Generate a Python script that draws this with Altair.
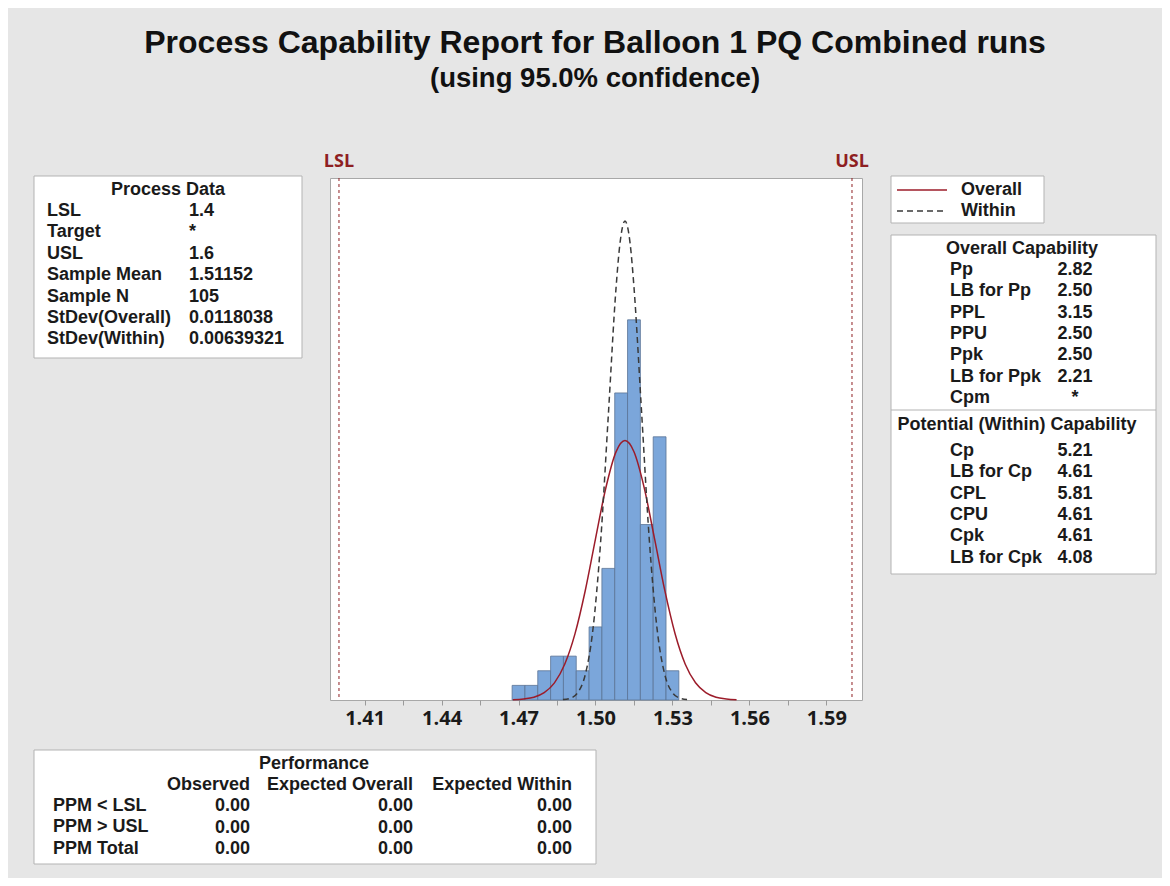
import altair as alt
import pandas as pd

FONT = "Open Sans"
BOXFONT = "Liberation Sans"

# ---------------- data ----------------
title_text = "Process Capability Report for Balloon 1 PQ Combined runs"
subtitle_text = "(using 95.0% confidence)"

bin_lo = [1.4675, 1.4725, 1.4775, 1.4825, 1.4875, 1.4925, 1.4975, 1.5025, 1.5075, 1.5125, 1.5175, 1.5225, 1.5275]
bin_hi = [1.4725, 1.4775, 1.4825, 1.4875, 1.4925, 1.4975, 1.5025, 1.5075, 1.5125, 1.5175, 1.5225, 1.5275, 1.5325]
counts = [1, 1, 2, 3, 3, 2, 5, 9, 21, 26, 12, 18, 2]

overall_x = [1.4678, 1.472, 1.476, 1.480, 1.484, 1.488, 1.492, 1.496, 1.500, 1.504, 1.508, 1.5115,
             1.515, 1.519, 1.523, 1.527, 1.531, 1.535, 1.539, 1.543, 1.547, 1.551, 1.555]
overall_y = [0.02, 0.07, 0.19, 0.50, 1.17, 2.44, 4.52, 7.47, 11.02, 14.48, 16.97, 17.74,
             16.98, 14.51, 11.05, 7.51, 4.55, 2.45, 1.18, 0.51, 0.19, 0.07, 0.02]

within_x = [1.4873, 1.490, 1.493, 1.496, 1.499, 1.502, 1.505, 1.508, 1.5095, 1.5115, 1.5135,
            1.515, 1.518, 1.521, 1.524, 1.527, 1.530, 1.533, 1.5357]
within_y = [0.03, 0.11, 0.49, 1.72, 4.82, 10.81, 19.47, 28.15, 31.16, 32.76, 31.23,
            28.25, 19.60, 10.91, 4.88, 1.75, 0.50, 0.12, 0.03]

spec_names = ["LSL", "USL"]
spec_values = [1.4, 1.6]

tick_values = [1.41, 1.425, 1.44, 1.455, 1.47, 1.485, 1.50, 1.515, 1.53, 1.545, 1.56, 1.575, 1.59]
tick_labels = ["1.41", "1.44", "1.47", "1.50", "1.53", "1.56", "1.59"]

process_labels = ["LSL", "Target", "USL", "Sample Mean", "Sample N", "StDev(Overall)", "StDev(Within)"]
process_values = ["1.4", "*", "1.6", "1.51152", "105", "0.0118038", "0.00639321"]

overall_labels = ["Pp", "LB for Pp", "PPL", "PPU", "Ppk", "LB for Ppk", "Cpm"]
overall_values = ["2.82", "2.50", "3.15", "2.50", "2.50", "2.21", "*"]

within_labels = ["Cp", "LB for Cp", "CPL", "CPU", "Cpk", "LB for Cpk"]
within_values = ["5.21", "4.61", "5.81", "4.61", "4.61", "4.08"]

perf_rows = ["PPM < LSL", "PPM > USL", "PPM Total"]
perf_headers = ["Observed", "Expected Overall", "Expected Within"]
perf_observed = ["0.00", "0.00", "0.00"]
perf_exp_overall = ["0.00", "0.00", "0.00"]
perf_exp_within = ["0.00", "0.00", "0.00"]

legend_names = ["Overall", "Within"]

# ---------------- layout helpers ----------------
OX, OY = 330, 178          # page position of plot area
W, H = 532, 522
BG = "#e6e6e6"
TXT = "#1a1a1a"
RED = "#9c1c2a"
DARKRED = "#8e1f22"
LH = 21.4
one = alt.Data(values=[{}])


def text(s, px, py, align="left", size=18, weight="bold", color=TXT, font=BOXFONT):
    # py = vertical centre of the line (page coordinates)
    return alt.Chart(one).mark_text(
        text=s, align=align, baseline="middle", fontSize=size,
        fontWeight=weight, color=color, font=font
    ).encode(x=alt.value(px - OX), y=alt.value(py - OY))


def column(lines, px, py0, lh=LH, align="left", **kw):
    return [text(s, px, py0 + i * lh, align=align, **kw) for i, s in enumerate(lines)]


def box(x1, y1, x2, y2):
    return alt.Chart(one).mark_rect(fill="white", stroke="#b3b3b3", strokeWidth=1).encode(
        x=alt.value(x1 - OX), x2=alt.value(x2 - OX), y=alt.value(y1 - OY), y2=alt.value(y2 - OY))


def hline(x1, x2, y, color, dash=None, width=1.0):
    kw = dict(color=color, strokeWidth=width)
    if dash:
        kw["strokeDash"] = dash
    return alt.Chart(one).mark_rule(**kw).encode(
        x=alt.value(x1 - OX), x2=alt.value(x2 - OX), y=alt.value(y - OY))


xscale = alt.Scale(domain=[1.3965, 1.6039], nice=False, zero=False)
yscale = alt.Scale(domain=[0, 35.7], nice=False, zero=True)

label_list = ",".join("'%s'" % t for t in tick_labels)
xaxis = alt.Axis(values=tick_values, format=".2f",
                 labelExpr="indexof([%s], datum.label) >= 0 ? datum.label : ''" % label_list,
                 tickSize=5, tickColor="#9a9a9a", domain=False, grid=False,
                 labelFontSize=20, labelFontWeight="bold", labelColor=TXT, labelFont=FONT,
                 labelPadding=3, labelOverlap=False, title=None)

# ---------------- plot layers ----------------
hist_df = pd.DataFrame({"lo": bin_lo, "hi": bin_hi, "count": counts})
bars = alt.Chart(hist_df).mark_rect(fill="#7ba6da", stroke="#5b7395", strokeWidth=0.8).encode(
    x=alt.X("lo:Q", scale=xscale, axis=xaxis),
    x2="hi:Q",
    y=alt.Y("count:Q", scale=yscale, axis=None),
    y2=alt.datum(0),
)

overall_df = pd.DataFrame({"x": overall_x, "y": overall_y})
overall_line = alt.Chart(overall_df).mark_line(color=RED, strokeWidth=1.5, interpolate="monotone").encode(
    x=alt.X("x:Q", title=None), y=alt.Y("y:Q", axis=None))

within_df = pd.DataFrame({"x": within_x, "y": within_y})
within_line = alt.Chart(within_df).mark_line(color="#3a3a3a", strokeWidth=1.5, strokeDash=[6, 4],
                                             interpolate="monotone").encode(
    x=alt.X("x:Q", title=None), y=alt.Y("y:Q", axis=None))

spec_df = pd.DataFrame({"name": spec_names, "value": spec_values})
spec_rules = alt.Chart(spec_df).mark_rule(color=DARKRED, strokeWidth=1, strokeDash=[3, 3]).encode(
    x=alt.X("value:Q", title=None))
spec_text = alt.Chart(spec_df).mark_text(color=DARKRED, fontSize=18, fontWeight="bold", font=FONT,
                                         baseline="middle").encode(
    x=alt.X("value:Q", title=None), y=alt.value(162 - OY), text="name:N")

# ---------------- annotation layers ----------------
layers = [
    box(34, 176, 302, 358),
    box(891, 176, 1044, 223),
    box(891, 235, 1156, 574),
    hline(891, 1156, 410, "#b3b3b3"),
    box(34, 750, 596, 864),
    bars, overall_line, within_line, spec_rules, spec_text,
    text(title_text, 595, 43, align="center", size=32, weight="bold", color="#111111"),
    text(subtitle_text, 595, 79, align="center", size=27.5, weight="bold", color="#111111"),
    # process data
    text("Process Data", 168, 190, align="center"),
    *column(process_labels, 47, 211),
    *column(process_values, 189, 211),
    # legend
    hline(897, 947, 190, RED, width=1.5),
    hline(897, 947, 211, "#3a3a3a", dash=[6, 4], width=1.5),
    *column(legend_names, 961, 189.5, lh=21),
    # capability
    text("Overall Capability", 1022, 249, align="center"),
    *column(overall_labels, 950, 270, lh=21.3),
    *column(overall_values, 1075, 270, lh=21.3, align="center"),
    text("Potential (Within) Capability", 1017, 425, align="center"),
    *column(within_labels, 950, 451, lh=21.3),
    *column(within_values, 1075, 451, lh=21.3, align="center"),
    # performance
    text("Performance", 314, 764, align="center"),
    *column(perf_rows, 53, 806),
    *column([perf_headers[0]] + perf_observed, 250, 785, align="right"),
    *column([perf_headers[1]] + perf_exp_overall, 413, 785, align="right"),
    *column([perf_headers[2]] + perf_exp_within, 572, 785, align="right"),
]

chart = alt.layer(*layers).properties(
    width=W, height=H,
    padding={"left": OX - 8, "top": OY - 8, "right": 1162 - (OX + W), "bottom": 878 - (OY + H)},
    autosize=alt.AutoSizeParams(type="none"),
    background=BG,
).configure_view(fill="white", stroke="#a8a8a8", strokeWidth=1)

chart.save("out.html", embed_options={"renderer": "svg", "actions": False})
